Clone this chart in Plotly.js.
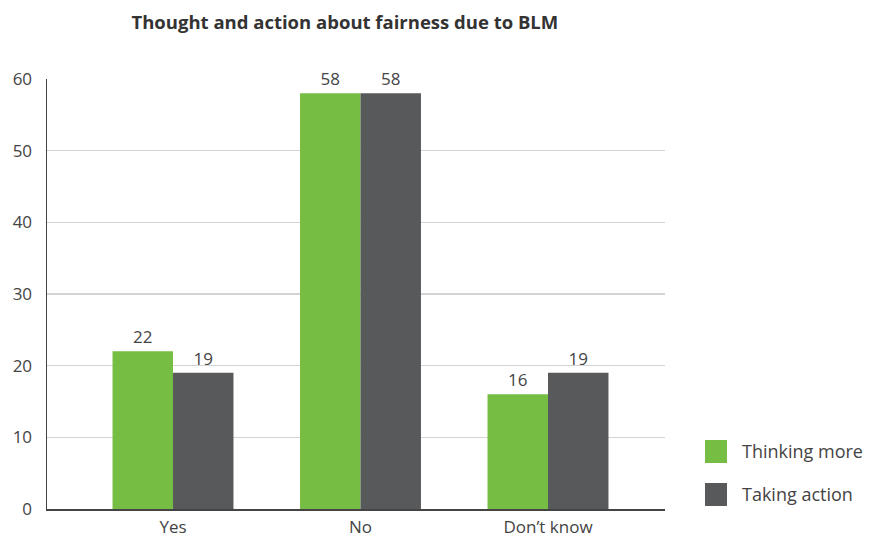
<!DOCTYPE html>
<html>
<head>
<meta charset="utf-8">
<script src="https://cdn.plot.ly/plotly-3.0.1.min.js"></script>
<style>html,body{margin:0;padding:0;background:#fff;}#chart{width:875px;height:539px;}</style>
</head>
<body>
<div id="chart"></div>
<script>
var categories = ["Yes", "No", "Don\u2019t know"];
var seriesNames = ["Thinking more", "Taking action"];
var thinkingMore = [22, 58, 16];
var takingAction = [19, 58, 19];
var seriesColors = ["#76BD43", "#58595B"];
var yTicks = [0, 10, 20, 30, 40, 50, 60];

var textFont = {family: "Open Sans, Lato, sans-serif", size: 17, color: "#444"};
var seriesValues = [thinkingMore, takingAction];

var traces = seriesValues.map(function (vals, i) {
  return {
    type: "bar",
    name: seriesNames[i],
    x: categories,
    y: vals,
    marker: {color: seriesColors[i]},
    text: vals.map(String),
    textposition: "outside",
    textfont: textFont,
    cliponaxis: false,
    hoverinfo: "skip",
    showlegend: false
  };
});

var shapes = [], annotations = [];
var legendX0 = 1.0647, legendX1 = 1.1003, legendTextX = 1.121;
var rows = [[0.107, 0.1605], [0.007, 0.0605]];
seriesNames.forEach(function (n, i) {
  shapes.push({type: "rect", xref: "paper", yref: "paper",
    x0: legendX0, x1: legendX1, y0: rows[i][0], y1: rows[i][1],
    fillcolor: seriesColors[i], line: {width: 0}});
  annotations.push({xref: "paper", yref: "paper", x: legendTextX,
    y: (rows[i][0] + rows[i][1]) / 2, xanchor: "left", yanchor: "middle",
    text: n, showarrow: false, font: {family: textFont.family, size: 18, color: "#444"}});
});

var layout = {
  width: 875, height: 539,
  margin: {l: 47, r: 210, t: 79, b: 30},
  paper_bgcolor: "#fff", plot_bgcolor: "#fff",
  title: {text: "<b>Thought and action about fairness due to BLM</b>",
    font: {family: "Open Sans, sans-serif", size: 18.5, color: "#333"},
    x: 0.482, xanchor: "center", xref: "paper", y: 0.958, yanchor: "middle"},
  barmode: "group",
  bargap: 0.355,
  bargroupgap: 0,
  xaxis: {
    range: [-0.672, 2.624],
    showgrid: false, zeroline: false,
    showline: true, linecolor: "#444", linewidth: 1.5,
    ticks: "", tickfont: textFont,
    ticklabelstandoff: 2,
    fixedrange: true
  },
  yaxis: {
    range: [0, 60],
    tickvals: yTicks,
    showgrid: true, gridcolor: "#d3d3d3", gridwidth: 1.5,
    zeroline: false,
    showline: true, linecolor: "#444", linewidth: 1.5,
    ticks: "", tickfont: textFont,
    ticklabelstandoff: 10,
    fixedrange: true
  },
  shapes: shapes,
  annotations: annotations,
  showlegend: false
};

Plotly.newPlot("chart", traces, layout, {displayModeBar: false, staticPlot: true});
</script>
</body>
</html>
